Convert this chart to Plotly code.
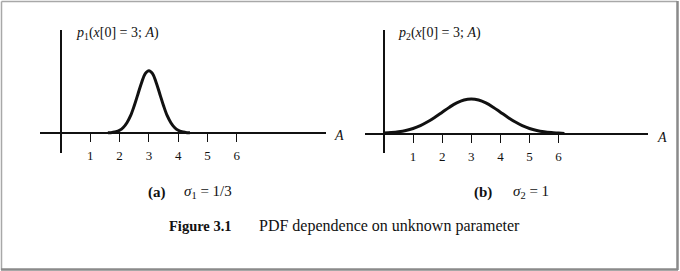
import plotly.graph_objects as go

W, H = 680, 271

# ---- data (relative pdf heights, arbitrary units) ----
A_left = [1.6, 1.75, 1.875, 2.0, 2.125, 2.25, 2.375, 2.5, 2.625, 2.75, 2.875, 3.0,
          3.125, 3.25, 3.375, 3.5, 3.625, 3.75, 3.875, 4.0, 4.125, 4.25, 4.4]
p_left = [0.0, 0.3, 0.9, 2.4, 5.2, 10.0, 17.0, 27.0, 38.5, 50.0, 59.0, 62.0,
          59.0, 50.0, 38.5, 27.0, 17.0, 10.0, 5.2, 2.4, 0.9, 0.3, 0.0]

A_right = [0.0, 0.25, 0.5, 0.75, 1.0, 1.25, 1.5, 1.75, 2.0, 2.25, 2.5, 2.75, 3.0,
           3.25, 3.5, 3.75, 4.0, 4.25, 4.5, 4.75, 5.0, 5.25, 5.5, 5.75, 6.0, 6.2]
p_right = [0.4, 0.9, 1.7, 3.0, 5.0, 7.9, 11.7, 16.3, 21.3, 26.3, 30.6, 33.5, 34.5,
           33.5, 30.6, 26.3, 21.3, 16.3, 11.7, 7.9, 5.0, 3.0, 1.7, 0.9, 0.4, 0.0]

tick_vals = [1, 2, 3, 4, 5, 6]
tick_text = ["1", "2", "3", "4", "5", "6"]

SERIF = "Liberation Serif"
INK = "#111111"

def px(x):
    return x / W

def py(y):
    return 1 - y / H

fig = go.Figure()
fig.add_trace(go.Scatter(x=A_left, y=p_left, mode="lines",
                         line=dict(color=INK, width=3, shape="spline"),
                         xaxis="x", yaxis="y", hoverinfo="skip"))
fig.add_trace(go.Scatter(x=A_right, y=p_right, mode="lines",
                         line=dict(color=INK, width=3, shape="spline"),
                         xaxis="x2", yaxis="y2", hoverinfo="skip"))

def xax(x0, x1, origin, unit, base_y):
    return dict(domain=[px(x0), px(x1)],
                range=[(x0 - origin) / unit, (x1 - origin) / unit],
                anchor="free", position=py(base_y),
                showline=True, linecolor=INK, linewidth=2,
                showgrid=False, zeroline=False,
                ticks="outside", ticklen=8, tickwidth=1.3, tickcolor=INK,
                tickvals=tick_vals, ticktext=tick_text, ticklabelstandoff=3,
                tickfont=dict(family=SERIF, size=13, color=INK),
                fixedrange=True)

def yax(y0, y1, base_y, x_pos):
    return dict(domain=[py(y1), py(y0)],
                range=[-(y1 - base_y), base_y - y0],
                anchor="free", position=px(x_pos),
                showline=True, linecolor=INK, linewidth=2,
                showgrid=False, zeroline=False, showticklabels=False,
                ticks="", fixedrange=True)

ann = []
def text(x, y, s, size=12, xanchor="left"):
    ann.append(dict(x=px(x), y=py(y), xref="paper", yref="paper", text=s,
                    showarrow=False, xanchor=xanchor, yanchor="middle",
                    font=dict(family=SERIF, size=size, color=INK)))

text(74, 34, "<i>p</i><sub>1</sub>(<i>x</i>[0] = 3; <i>A</i>)", 14)
text(396, 34, "<i>p</i><sub>2</sub>(<i>x</i>[0] = 3; <i>A</i>)", 14)
text(332, 135, "<i>A</i>", 14)
text(655, 137, "<i>A</i>", 14)
text(146, 192, "<b>(a)</b>", 15)
text(182, 192, "<i>σ</i><sub>1</sub> = 1/3", 15)
text(472, 192, "<b>(b)</b>", 15)
text(511, 192, "<i>σ</i><sub>2</sub> = 1", 15)
text(167, 226, "<b>Figure 3.1</b>", 14.5)
text(257, 226, "PDF dependence on unknown parameter", 16)

shapes = [
    dict(type="line", xref="paper", yref="paper", x0=px(1.5), x1=px(677), y0=py(1.5), y1=py(1.5),
         line=dict(color="#a8a8a8", width=1.5)),
    dict(type="line", xref="paper", yref="paper", x0=px(1.5), x1=px(1.5), y0=py(1.5), y1=py(270),
         line=dict(color="#a8a8a8", width=1.5)),
    dict(type="line", xref="paper", yref="paper", x0=px(677.5), x1=px(677.5), y0=py(1), y1=py(270),
         line=dict(color="#8a8a8a", width=2.5)),
    dict(type="line", xref="paper", yref="paper", x0=px(1), x1=px(678), y0=py(269.5), y1=py(269.5),
         line=dict(color="#8a8a8a", width=2.5)),
]

fig.update_layout(
    width=W, height=H, margin=dict(l=0, r=0, t=0, b=0),
    paper_bgcolor="white", plot_bgcolor="rgba(0,0,0,0)",
    showlegend=False,
    xaxis=xax(40, 326, 61, 29.3, 132.7),
    yaxis=yax(30, 153, 132.7, 61),
    xaxis2=xax(365, 648, 384, 29.1, 133.5),
    yaxis2=yax(30, 153, 133.5, 384),
    annotations=ann, shapes=shapes,
)

fig.write_html("out.html")
